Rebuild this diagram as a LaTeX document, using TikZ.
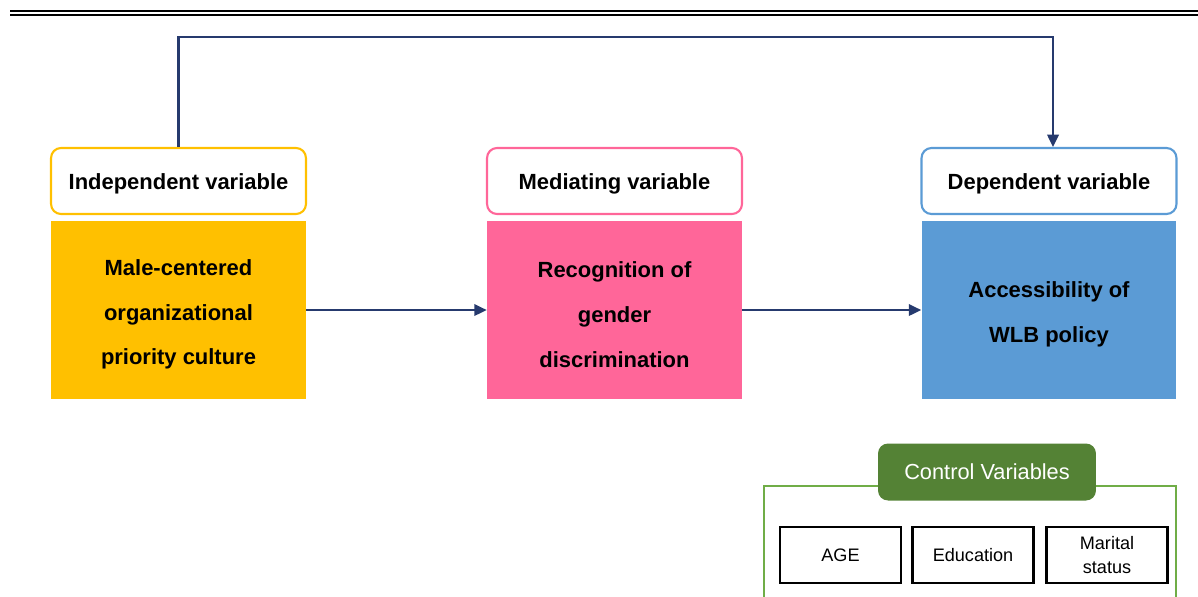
\documentclass[tikz,border=0pt]{standalone}
\usepackage{fontspec}
\setmainfont{Liberation Sans}
\usetikzlibrary{arrows.meta}
\definecolor{ivorange}{HTML}{FFC000}
\definecolor{mvpink}{HTML}{FF6699}
\definecolor{dvblue}{HTML}{5B9BD5}
\definecolor{ctrlgreen}{HTML}{70AD47}
\definecolor{ctrldark}{HTML}{548235}
\definecolor{flownavy}{RGB}{38,58,110}
\begin{document}
\begin{tikzpicture}[x=0.02cm,y=-0.02cm,
    head/.style={draw, line width=1.2pt, fill=white, rounded corners=0.2cm,
      minimum width=5.1cm, minimum height=1.32cm, inner sep=0pt,
      text height=10.2pt, text depth=0pt,
      font=\fontsize{12.5}{15}\selectfont\bfseries},
    body/.style={minimum width=5.1cm, minimum height=3.56cm, inner sep=0pt},
    bodytext/.style={align=center, yshift=-0.09cm,
      font=\fontsize{12.5}{25.5}\selectfont\bfseries},
    flow/.style={draw=flownavy, line width=1.3pt, -{Triangle[length=7pt,width=6.5pt]}},
    ctrlbox/.style={draw, line width=1.2pt, minimum width=2.42cm, minimum height=1.12cm,
      inner sep=0pt, align=center, font=\fontsize{10.3}{14}\selectfont}]
    \useasboundingbox (0,0) rectangle (1198,596);
    \draw[line width=1.4pt] (10,11) -- (1198,11);
    \draw[line width=1.4pt] (10,15) -- (1198,15);
    \node[head, draw=ivorange] (hIV) at (178.5,181) {Independent variable};
    \node[body, fill=ivorange, label={[bodytext]center:{Male-centered\\organizational\\priority culture}}] (bIV) at (178.5,310) {};
    \node[head, draw=mvpink] (hMV) at (614.5,181) {Mediating variable};
    \node[body, fill=mvpink, label={[bodytext]center:{Recognition of\\gender\\discrimination}}] (bMV) at (614.5,310) {};
    \node[head, draw=dvblue] (hDV) at (1049,181) {Dependent variable};
    \node[body, fill=dvblue, label={[bodytext]center:{Accessibility of\\WLB policy}}] (bDV) at (1049,310) {};
    \coordinate (top) at (600,37);
    \draw[flow] (bIV) -- (bMV);
    \draw[flow] (bMV) -- (bDV);
    \draw[flow] (hIV.north) -- (hIV.north |- top) -| ([xshift=0.08cm]hDV.north);
    \draw[ctrlgreen, line width=1.2pt] (764,610) -- (764,486) -- (1176,486) -- (1176,610);
    \node[fill=ctrldark, text=white, rounded corners=0.2cm, minimum width=4.36cm,
      minimum height=1.14cm, inner sep=0pt, font=\fontsize{12.4}{15}\selectfont] (ctrl) at (987,472) {Control Variables};
    \node[ctrlbox] (age) at (840.5,555) {AGE};
    \node[ctrlbox] (edu) at (973,555) {Education};
    \node[ctrlbox] (mar) at (1107,555) {Marital\\status};
\end{tikzpicture}
\end{document}
